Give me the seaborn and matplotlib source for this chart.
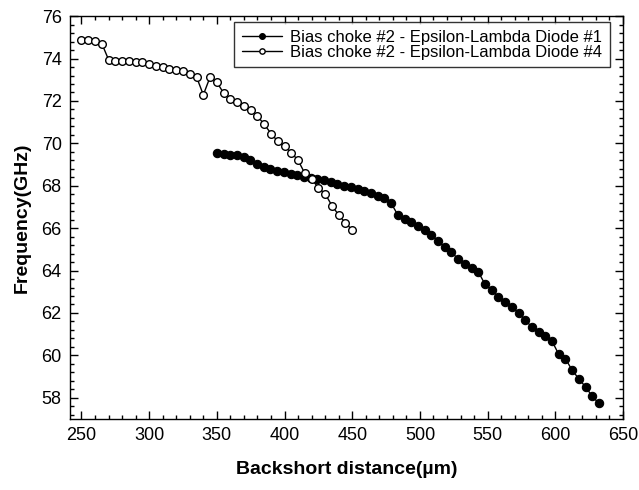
import matplotlib
matplotlib.use("Agg")
import matplotlib.pyplot as plt
from matplotlib.ticker import MultipleLocator
import seaborn as sns
import pandas as pd

# Diode #1 (filled circles)
x_d1 = [350.0, 355.0, 359.9, 364.9, 369.8, 374.8, 379.7, 384.7, 389.6, 394.6,
        399.5, 404.5, 409.4, 414.4, 419.3, 424.3, 429.2, 434.2, 439.1, 444.1,
        449.0, 454.0, 458.9, 463.9, 468.8, 473.8, 478.7, 483.7, 488.6, 493.6,
        498.5, 503.5, 508.4, 513.4, 518.3, 523.3, 528.2, 533.2, 538.1, 543.1,
        548.0, 553.0, 557.9, 562.9, 567.8, 572.8, 577.7, 582.7, 587.6, 592.6,
        597.5, 602.5, 607.4, 612.4, 617.3, 622.3, 627.2, 632.2]
y_d1 = [69.56, 69.51, 69.47, 69.45, 69.37, 69.20, 69.03, 68.88, 68.77, 68.69,
        68.64, 68.56, 68.51, 68.43, 68.37, 68.31, 68.25, 68.17, 68.09, 68.01,
        67.93, 67.85, 67.77, 67.66, 67.54, 67.42, 67.18, 66.62, 66.43, 66.31,
        66.12, 65.91, 65.68, 65.41, 65.09, 64.86, 64.55, 64.30, 64.10, 63.94,
        63.36, 63.08, 62.76, 62.54, 62.26, 62.02, 61.66, 61.34, 61.11, 60.92,
        60.68, 60.05, 59.85, 59.30, 58.90, 58.51, 58.08, 57.73]

# Diode #4 (open circles)
x_d4 = [250, 255, 260, 265, 270, 275, 280, 285, 290, 295,
        300, 305, 310, 315, 320, 325, 330, 335, 340, 345,
        350, 355, 360, 365, 370, 375, 380, 385, 390, 395,
        400, 405, 410, 415, 420, 425, 430, 435, 440, 445, 450]
y_d4 = [74.87, 74.87, 74.82, 74.71, 73.95, 73.89, 73.87, 73.87, 73.86, 73.82,
        73.73, 73.67, 73.60, 73.51, 73.45, 73.40, 73.29, 73.13, 72.29, 73.13,
        72.88, 72.37, 72.10, 71.95, 71.74, 71.56, 71.28, 70.90, 70.46, 70.10,
        69.86, 69.56, 69.20, 68.58, 68.32, 67.90, 67.62, 67.06, 66.62, 66.25, 65.91]

label_d1 = "Bias choke #2 - Epsilon-Lambda Diode #1"
label_d4 = "Bias choke #2 - Epsilon-Lambda Diode #4"

x_ticks = [250, 300, 350, 400, 450, 500, 550, 600, 650]
y_ticks = [58, 60, 62, 64, 66, 68, 70, 72, 74, 76]

sns.set_theme(style="ticks")
plt.rcParams["font.family"] = ["Liberation Sans", "DejaVu Sans"]
plt.rcParams["text.color"] = "black"
plt.rcParams["axes.labelcolor"] = "black"

fig = plt.figure(figsize=(6.39, 4.90), dpi=100)
ax = fig.add_axes([0.1095, 0.145, 0.8655, 0.822])

df1 = pd.DataFrame({"x": x_d1, "y": y_d1})
df4 = pd.DataFrame({"x": x_d4, "y": y_d4})

sns.lineplot(data=df1, x="x", y="y", ax=ax, color="black", lw=1.0,
             marker="o", ms=6, mfc="black", mec="black", mew=0.8,
             label=label_d1, estimator=None)
sns.lineplot(data=df4, x="x", y="y", ax=ax, color="black", lw=1.0,
             marker="o", ms=5.5, mfc="white", mec="black", mew=1.0,
             label=label_d4, estimator=None)

ax.set_xlim(241.5, 648)
ax.set_ylim(57, 76)
ax.set_xticks(x_ticks)
ax.set_yticks(y_ticks)
ax.xaxis.set_minor_locator(MultipleLocator(10))
ax.yaxis.set_minor_locator(MultipleLocator(0.4))
ax.tick_params(which="both", direction="in", top=True, right=True,
               colors="black", labelcolor="black", labelsize=13, width=1.0)
ax.tick_params(which="major", length=6, pad=6)
ax.tick_params(which="minor", length=3)
for s in ax.spines.values():
    s.set_color("black")
    s.set_linewidth(1.0)

ax.set_xlabel("Backshort distance(\u00b5m)", fontsize=14, fontweight="bold",
              labelpad=12, color="black")
ax.set_ylabel("Frequency(GHz)", fontsize=14, fontweight="bold",
              labelpad=8, color="black")

leg = ax.legend(loc="upper right", bbox_to_anchor=(0.976, 0.985), frameon=True,
                fancybox=False, edgecolor="black", fontsize=12,
                handlelength=2.4, labelspacing=0.0, borderpad=0.45,
                handletextpad=0.5, markerscale=0.7, borderaxespad=0)
leg.get_frame().set_linewidth(1.0)
for t in leg.get_texts():
    t.set_color("black")

fig.savefig("out.png", dpi=100, facecolor="white")
